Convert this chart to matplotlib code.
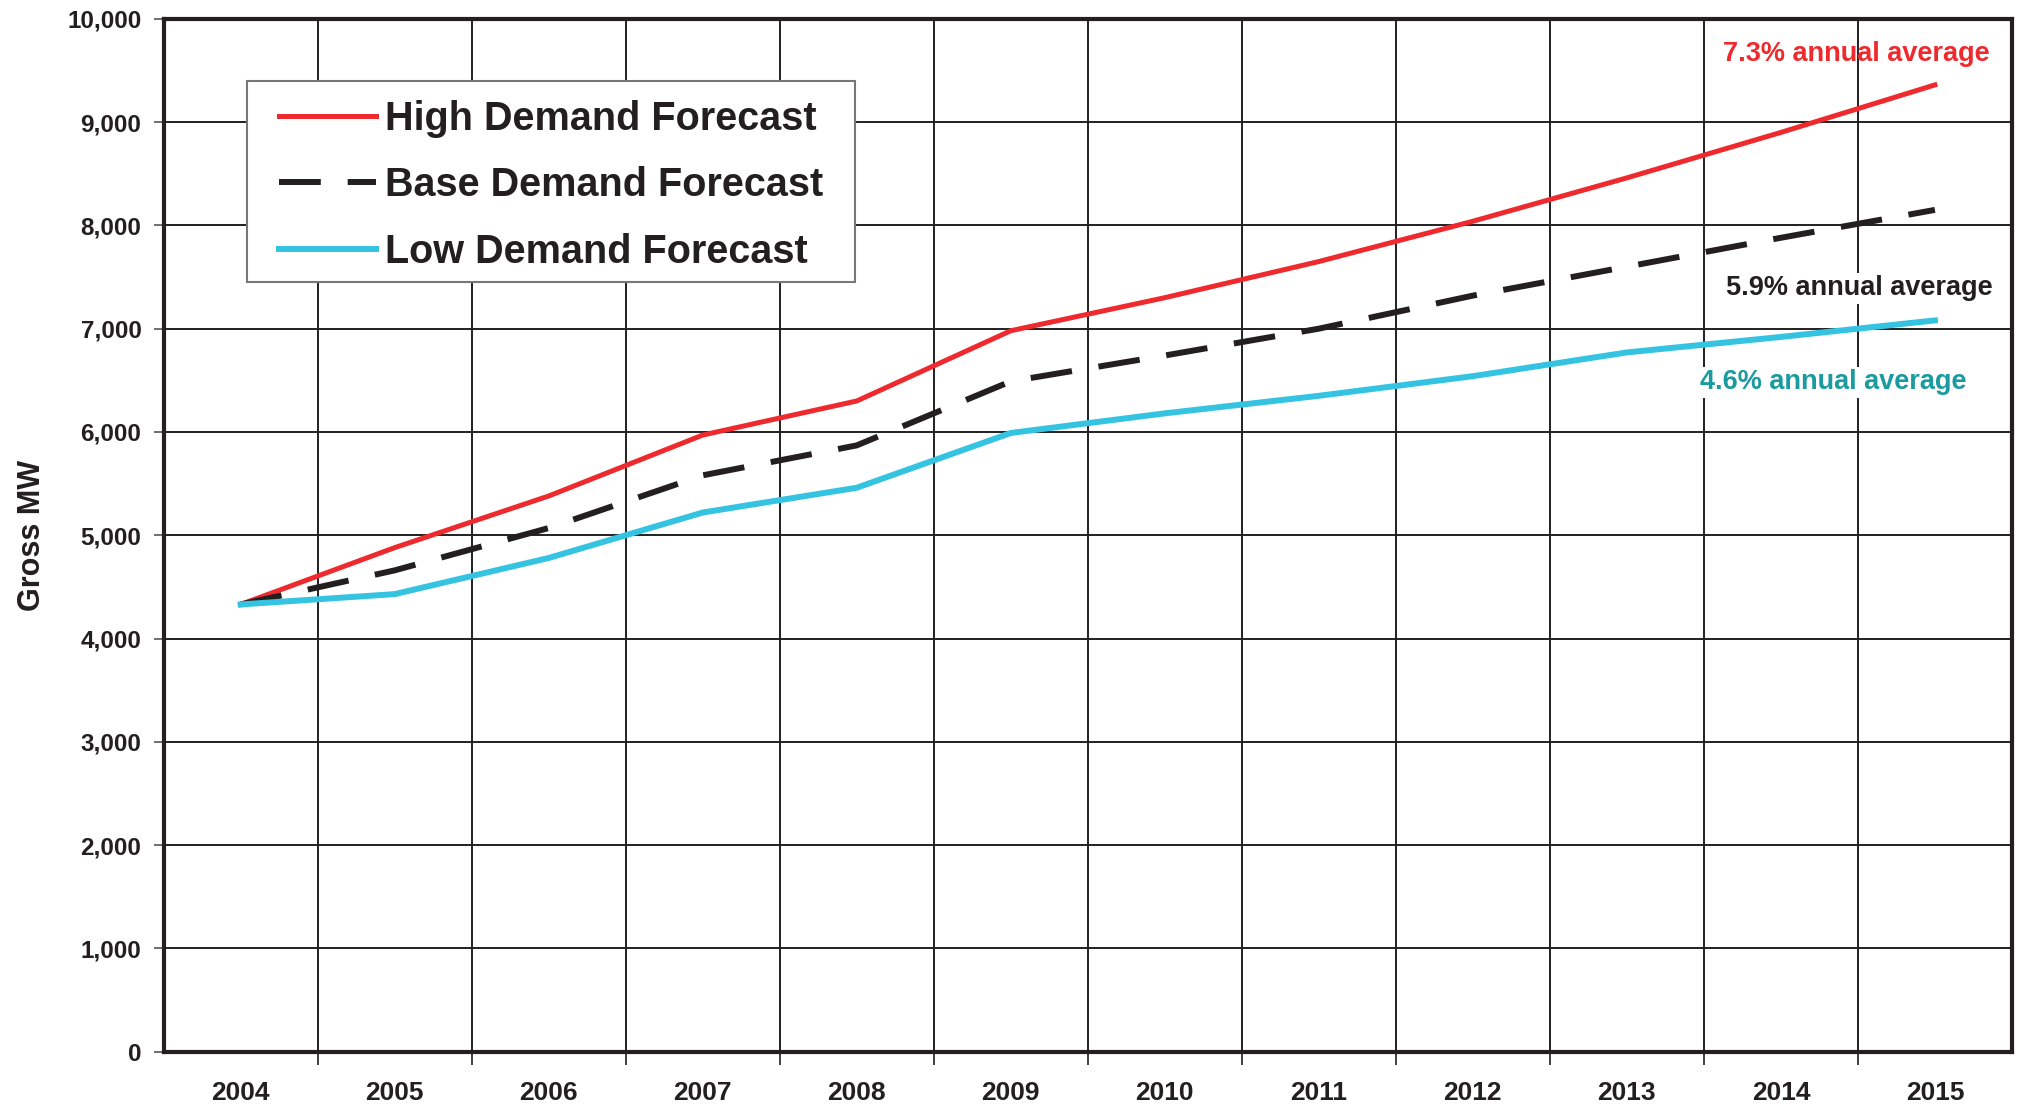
import numpy as np
import matplotlib.pyplot as plt
from matplotlib.patches import Rectangle
from matplotlib.ticker import FuncFormatter, FixedLocator

plt.rcParams['font.family'] = ['Liberation Sans', 'DejaVu Sans']
plt.rcParams['font.weight'] = 'bold'

years = ['2004', '2005', '2006', '2007', '2008', '2009',
         '2010', '2011', '2012', '2013', '2014', '2015']
high = [4330, 4880, 5380, 5970, 6300, 6980, 7300, 7650, 8040, 8460, 8900, 9360]
base = [4330, 4660, 5070, 5580, 5870, 6490, 6740, 7000, 7320, 7600, 7880, 8150]
low = [4330, 4430, 4780, 5220, 5460, 5990, 6180, 6350, 6540, 6770, 6920, 7080]

red = '#ee2a2e'
black = '#231f20'
cyan = '#35c3e2'
teal = '#1a9ba0'

fig = plt.figure(figsize=(20.21, 11.07), dpi=100)
ax = fig.add_axes([0.081, 0.050, 0.9145, 0.933])

x = np.arange(len(years))
ax.plot(x, high, color=red, lw=3.6, label='High Demand Forecast', zorder=4)
ax.plot(x, base, color=black, lw=4.3, ls=(0, (7, 4.5)), label='Base Demand Forecast', zorder=4)
ax.plot(x, low, color=cyan, lw=4.3, label='Low Demand Forecast', zorder=4)

ax.set_xlim(-0.5, len(years) - 0.5)
ax.set_ylim(0, 10000)
ax.set_yticks(np.arange(0, 10001, 1000))
ax.yaxis.set_major_formatter(FuncFormatter(lambda v, p: f'{int(v):,}'))

ax.set_xticks(x)
ax.set_xticklabels(years)
ax.xaxis.set_minor_locator(FixedLocator(np.arange(0.5, len(years) - 0.5, 1)))
ax.tick_params(axis='x', which='major', length=0, pad=21, labelsize=19)
ax.tick_params(axis='x', which='minor', length=9, width=1.2, color=black, direction='out')
ax.tick_params(axis='y', which='major', length=7, width=1.2, color='#555555', pad=9, labelsize=17.5)
for lab in ax.get_xticklabels() + ax.get_yticklabels():
    lab.set_fontweight('bold')
    lab.set_color(black)

ax.grid(True, axis='y', which='major', color=black, lw=1.4, zorder=1)
ax.grid(True, axis='x', which='minor', color=black, lw=1.4, zorder=1)
for s in ax.spines.values():
    s.set_linewidth(3)
    s.set_color(black)

ax.set_ylabel('Gross MW', fontsize=22, fontweight='bold', color=black)
ax.yaxis.set_label_coords(-0.0631, 0.5)

# legend box drawn separately so the padding can differ horizontally/vertically
box = Rectangle((0.0452, 0.745), 0.3288, 0.195, transform=ax.transAxes,
                facecolor='white', edgecolor='#777777', lw=1.5, zorder=5)
ax.add_patch(box)
leg = ax.legend(loc='center', bbox_to_anchor=(0.2096, 0.8388), fontsize=28.5,
                frameon=False, handlelength=2.45, handletextpad=0.22,
                borderpad=0, labelspacing=0.72, borderaxespad=0)
for t in leg.get_texts():
    t.set_fontweight('bold')
    t.set_color(black)
leg.set_zorder(6)

ax.text(10.49, 9660, '7.3% annual average', color=red, fontsize=19.5, fontweight='bold',
        ha='center', va='center', zorder=6)
ax.text(10.51, 7390, '5.9% annual average', color=black, fontsize=19.5, fontweight='bold',
        ha='center', va='center', zorder=6,
        bbox=dict(facecolor='white', edgecolor='none', pad=2))
ax.text(10.34, 6480, '4.6% annual average', color=teal, fontsize=19.5, fontweight='bold',
        ha='center', va='center', zorder=6,
        bbox=dict(facecolor='white', edgecolor='none', pad=2))

fig.savefig('out.png', dpi=100)
